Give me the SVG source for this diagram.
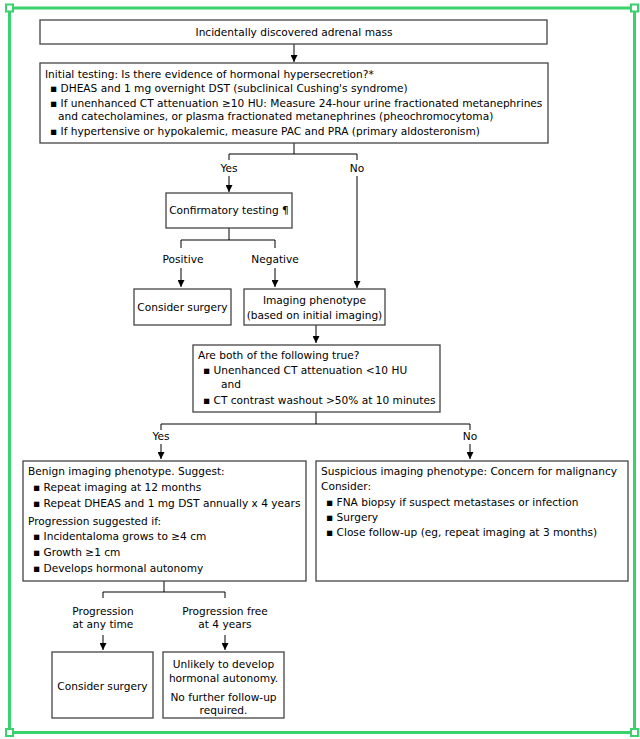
<svg xmlns="http://www.w3.org/2000/svg" width="640" height="739" viewBox="0 0 640 739">
<defs>
<marker id="ah" viewBox="0 0 10 10" refX="10" refY="5" markerWidth="7" markerHeight="7" markerUnits="userSpaceOnUse" orient="auto">
<path d="M0,0 L10,5 L0,10 z" fill="#000"/>
</marker>
<style>
.box{fill:#fff;stroke:#444;stroke-width:1.3}
.t{font-family:"DejaVu Sans",Verdana,sans-serif;font-size:10.6px;fill:#000}
.c{text-anchor:middle}
.ln{fill:none;stroke:#000;stroke-width:1}
.ar{fill:none;stroke:#000;stroke-width:1;marker-end:url(#ah)}
.frame{fill:none;stroke:#3ad26c;stroke-width:3}
.hd{fill:#fff;stroke:#3ad26c;stroke-width:2}
</style>
</defs>
<rect width="640" height="739" fill="#fff"/>
<g id="frame">
<rect class="frame" x="9.5" y="8" width="625" height="724.5"/>
<rect class="hd" x="6" y="4.5" width="7" height="7"/>
<rect class="hd" x="631" y="4.5" width="7" height="7"/>
<rect class="hd" x="6" y="729" width="7" height="7"/>
<rect class="hd" x="631" y="729" width="7" height="7"/>
</g>
<g id="connectors">
<path class="ar" d="M294,44 V62"/>
<path class="ln" d="M294,143 V154 M229,154 H357 M229,154 V160 M357,154 V160"/>
<path class="ar" d="M229,176 V192"/>
<path class="ar" d="M357,176 V288"/>
<path class="ln" d="M229,228 V240 M181,240 H275 M181,240 V248 M275,240 V248"/>
<path class="ar" d="M181,268 V287"/>
<path class="ar" d="M275,268 V287"/>
<path class="ar" d="M316,325 V343"/>
<path class="ln" d="M316,412 V424 M161,424 H470 M161,424 V430 M470,424 V430"/>
<path class="ar" d="M161,444 V459"/>
<path class="ar" d="M470,444 V459"/>
<path class="ln" d="M164,581 V592 M103,592 H225 M103,592 V598 M225,592 V598"/>
<path class="ar" d="M103,635 V650"/>
<path class="ar" d="M225,635 V650"/>
</g>
<g id="labels">
<text class="t c" x="229" y="172">Yes</text>
<text class="t c" x="357" y="172">No</text>
<text class="t c" x="183" y="263">Positive</text>
<text class="t c" x="275" y="263">Negative</text>
<text class="t c" x="161" y="440">Yes</text>
<text class="t c" x="470" y="440">No</text>
<text class="t c" x="103" y="615">Progression</text>
<text class="t c" x="103" y="628">at any time</text>
<text class="t c" x="225" y="615">Progression free</text>
<text class="t c" x="225" y="628">at 4 years</text>
</g>
<g id="n1">
<rect class="box" x="40" y="20" width="507" height="24"/>
<text class="t c" x="294" y="36">Incidentally discovered adrenal mass</text>
</g>
<g id="n2">
<rect class="box" x="40" y="63" width="508" height="80"/>
<text class="t" x="45" y="78">Initial testing: Is there evidence of hormonal hypersecretion?*</text>
<text class="t" x="50" y="92">▪ DHEAS and 1 mg overnight DST (subclinical Cushing's syndrome)</text>
<text class="t" x="50" y="107">▪ If unenhanced CT attenuation ≥10 HU: Measure 24-hour urine fractionated metanephrines</text>
<text class="t" x="58" y="120">and catecholamines, or plasma fractionated metanephrines (pheochromocytoma)</text>
<text class="t" x="50" y="135">▪ If hypertensive or hypokalemic, measure PAC and PRA (primary aldosteronism)</text>
</g>
<g id="n3">
<rect class="box" x="166" y="193" width="126" height="35"/>
<text class="t c" x="229" y="214">Confirmatory testing ¶</text>
</g>
<g id="n4">
<rect class="box" x="134" y="289" width="97" height="36"/>
<text class="t c" x="182.5" y="311">Consider surgery</text>
</g>
<g id="n5">
<rect class="box" x="244" y="289" width="141" height="36"/>
<text class="t c" x="314.5" y="304">Imaging phenotype</text>
<text class="t c" x="314.5" y="319">(based on initial imaging)</text>
</g>
<g id="n6">
<rect class="box" x="193" y="345" width="247" height="67"/>
<text class="t" x="198" y="359">Are both of the following true?</text>
<text class="t" x="203" y="374">▪ Unenhanced CT attenuation &lt;10 HU</text>
<text class="t" x="221" y="388">and</text>
<text class="t" x="203" y="404">▪ CT contrast washout &gt;50% at 10 minutes</text>
</g>
<g id="n7">
<rect class="box" x="23" y="461" width="283" height="120"/>
<text class="t" x="28" y="475">Benign imaging phenotype. Suggest:</text>
<text class="t" x="33" y="491">▪ Repeat imaging at 12 months</text>
<text class="t" x="33" y="507">▪ Repeat DHEAS and 1 mg DST annually x 4 years</text>
<text class="t" x="28" y="525">Progression suggested if:</text>
<text class="t" x="33" y="540">▪ Incidentaloma grows to ≥4 cm</text>
<text class="t" x="33" y="556">▪ Growth ≥1 cm</text>
<text class="t" x="33" y="572">▪ Develops hormonal autonomy</text>
</g>
<g id="n8">
<rect class="box" x="316" y="461" width="312" height="120"/>
<text class="t" x="321" y="475">Suspicious imaging phenotype: Concern for malignancy</text>
<text class="t" x="321" y="490">Consider:</text>
<text class="t" x="326" y="506">▪ FNA biopsy if suspect metastases or infection</text>
<text class="t" x="326" y="521">▪ Surgery</text>
<text class="t" x="326" y="536">▪ Close follow-up (eg, repeat imaging at 3 months)</text>
</g>
<g id="n9">
<rect class="box" x="52" y="652" width="101" height="66"/>
<text class="t c" x="102.5" y="690">Consider surgery</text>
</g>
<g id="n10">
<rect class="box" x="163" y="652" width="121" height="66"/>
<text class="t c" x="223.5" y="668">Unlikely to develop</text>
<text class="t c" x="223.5" y="682">hormonal autonomy.</text>
<text class="t c" x="223.5" y="701">No further follow-up</text>
<text class="t c" x="223.5" y="714">required.</text>
</g>
</svg>
